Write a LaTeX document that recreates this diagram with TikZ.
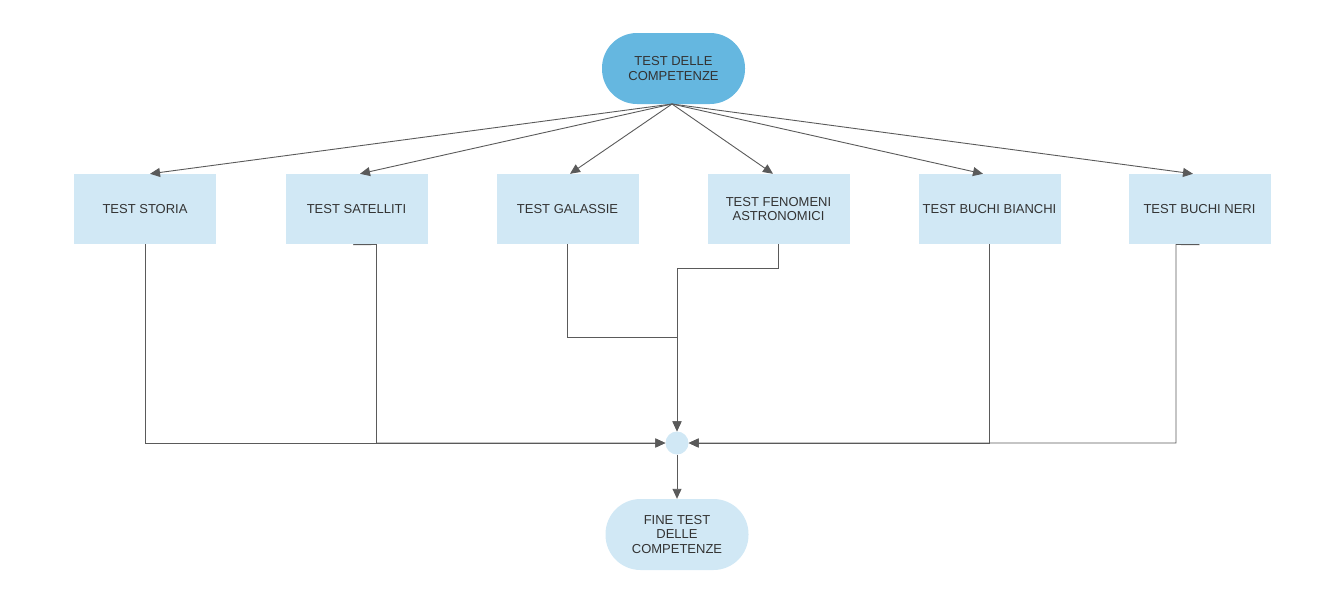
\documentclass[tikz,border=0pt]{standalone}
\usepackage{fontspec}
\setmainfont{Liberation Sans}
\usetikzlibrary{arrows.meta,calc}
\definecolor{topc}{HTML}{65B7E0}
\definecolor{boxc}{HTML}{D1E8F5}
\definecolor{txtc}{HTML}{333333}
\definecolor{linec}{HTML}{5A5A5A}
\begin{document}
\begin{tikzpicture}[x=1pt,y=-1pt,
  every node/.style={font=\fontsize{13}{14.5}\selectfont, text=txtc, align=center, inner sep=0pt},
  testbox/.style={fill=boxc, minimum width=142, minimum height=70},
  stadium/.style={minimum width=143, minimum height=71, rounded corners=35pt},
  arr/.style={draw=linec, line width=0.9pt, -{Triangle[length=10pt,width=9pt]}},
  ln/.style={draw=linec, line width=0.9pt}]
\useasboundingbox (0,0) rectangle (1324,600);
\node[stadium, fill=topc] (top) at (673.5,68.5) {TEST DELLE\\COMPETENZE};
\node[testbox] (b1) at (145,209) {TEST STORIA};
\node[testbox] (b2) at (356.5,209) {TEST SATELLITI};
\node[testbox] (b3) at (567.5,209) {TEST GALASSIE};
\node[testbox] (b4) at (778.5,209) {TEST FENOMENI\\ASTRONOMICI};
\node[testbox] (b5) at (989.5,209) {TEST BUCHI BIANCHI};
\node[testbox] (b6) at (1199.5,209) {TEST BUCHI NERI};
\node[circle, fill=boxc, minimum size=23] (c) at (677,443) {};
\node[stadium, fill=boxc] (end) at (677,534.5) {FINE TEST\\DELLE\\COMPETENZE};
\coordinate (src) at (672,104);
\draw[arr] (src) -- ($(b1.north)+(5,0)$);
\draw[arr] (src) -- ($(b2.north)+(3.5,0)$);
\draw[arr] (src) -- ($(b3.north)+(2.5,0)$);
\draw[arr] (src) -- ($(b4.north)+(-5.5,0)$);
\draw[arr] (src) -- ($(b5.north)+(-6.5,0)$);
\draw[arr] (src) -- ($(b6.north)+(-6.5,0)$);
\coordinate (s2) at (376.5,244.5);
\coordinate (s6) at (1176,244.5);
\coordinate (j1) at (677,337);
\coordinate (j2) at (677,268);
\draw[arr] (b1.south) |- (c.west);
\draw[arr] ($(b2.south)+(-3.5,0.5)$) -- (s2) -- (s2 |- c) -- (c.west);
\draw[arr] (b3.south) |- (j1) -- (c.north);
\draw[arr] (b4.south) |- (j2) -- (c.north);
\draw[arr] (b5.south) |- (c.east);
\draw[arr] ($(b6.south)+(0,0.5)$) -- (s6) -- (s6 |- c) -- (c.east);
\draw[arr] (c.south) -- (end.north);
\end{tikzpicture}
\end{document}
